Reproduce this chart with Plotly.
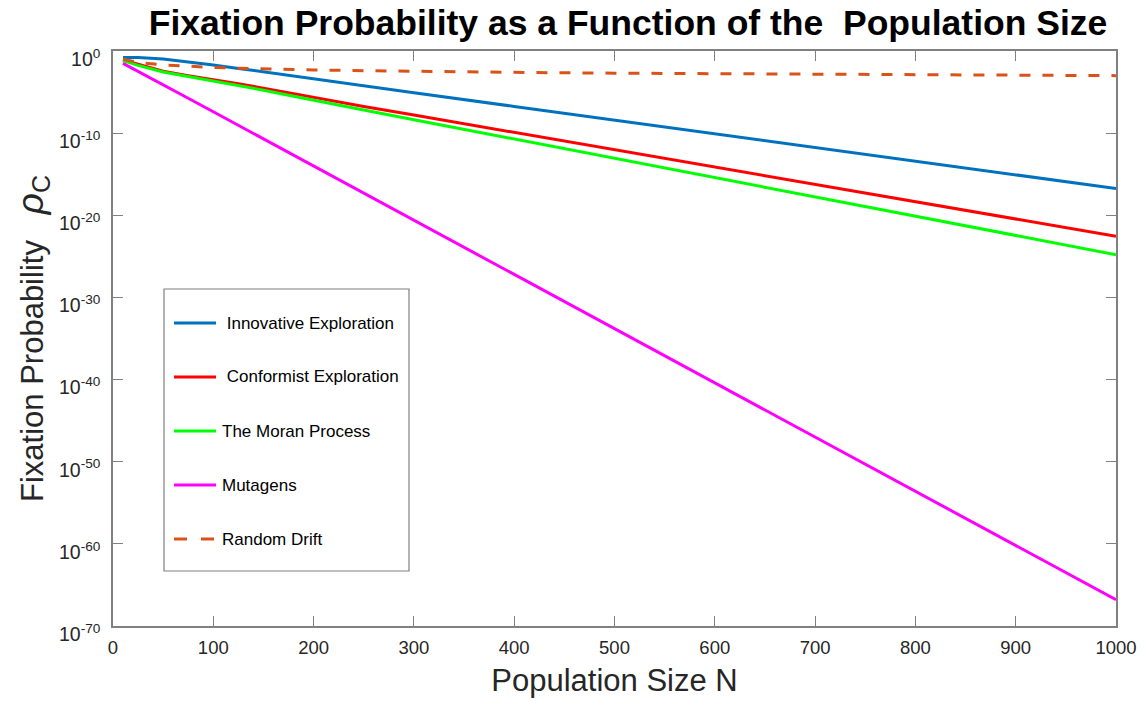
import plotly.graph_objects as go

# Population sizes (x) at which values were read
N = [10, 25, 50, 75, 100, 125, 150, 175, 200, 250, 300, 400, 500, 600, 700, 800, 900, 1000]

# log10 of fixation probability
innovative_log = [-0.80, -0.78, -0.98, -1.30, -1.70, -2.12, -2.53, -2.95, -3.40, -4.25, -5.08,
                  -6.75, -8.41, -10.08, -11.75, -13.41, -15.08, -16.74]
conformist_log = [-1.10, -1.60, -2.45, -3.00, -3.45, -3.97, -4.52, -5.08, -5.68, -6.75, -7.80,
                  -9.91, -12.02, -14.13, -16.23, -18.34, -20.45, -22.56]
moran_log = [-1.15, -1.75, -2.55, -3.10, -3.60, -4.17, -4.77, -5.38, -6.00, -7.19, -8.37,
             -10.71, -13.06, -15.41, -17.76, -20.11, -22.45, -24.80]
mutagens_log = [-1.50, -2.50, -4.10, -5.75, -7.40, -9.05, -10.70, -12.35, -14.00, -17.30, -20.60,
                -27.20, -33.70, -40.30, -46.90, -53.50, -60.10, -66.80]
drift = [0.1, 0.04, 0.02, 0.0133, 0.01, 0.008, 0.00667, 0.00571, 0.005, 0.004, 0.00333,
         0.0025, 0.002, 0.00167, 0.00143, 0.00125, 0.00111, 0.001]

names = ["\u00a0Innovative Exploration", "\u00a0Conformist Exploration", "The Moran Process",
         "Mutagens", "Random Drift"]
colors = ["#0072BD", "#FF0000", "#00FF00", "#FF00FF", "#D95319"]
dashes = ["solid", "solid", "solid", "solid", "11px,12px"]

ytick_exp = [0, -10, -20, -30, -40, -50, -60, -70]
xticks = [0, 100, 200, 300, 400, 500, 600, 700, 800, 900, 1000]

FONT = "Liberation Sans, Arial, Helvetica, sans-serif"

fig = go.Figure()
series = [innovative_log, conformist_log, moran_log, mutagens_log]
for name, logs, col, dsh in zip(names[:4], series, colors[:4], dashes[:4]):
    fig.add_trace(go.Scatter(x=N, y=[10 ** v for v in logs], mode="lines", name=name,
                             line=dict(color=col, width=3, dash=dsh), showlegend=False))
fig.add_trace(go.Scatter(x=N, y=drift, mode="lines", name=names[4],
                         line=dict(color=colors[4], width=3, dash=dashes[4]), showlegend=False))

axis_color = "#808080"

# plot-area pixel geometry (for legend placement in paper units)
L, R, T, B = 113, 1116, 51, 626
def px(xp):
    return (xp - L) / (R - L)
def py(yp):
    return (B - yp) / (B - T)

shapes = [dict(type="rect", xref="paper", yref="paper", x0=px(164), x1=px(409), y0=py(571), y1=py(289),
               line=dict(color=axis_color, width=1.2), fillcolor="rgba(0,0,0,0)")]
annotations = []
legend_y = [323, 377, 431, 485, 539]
for name, col, dsh, yy in zip(names, colors, dashes, legend_y):
    shapes.append(dict(type="line", xref="paper", yref="paper", x0=px(174), x1=px(216),
                       y0=py(yy), y1=py(yy), line=dict(color=col, width=3,
                       dash="13px,14px" if dsh != "solid" else "solid")))
    annotations.append(dict(xref="paper", yref="paper", x=px(220), y=py(yy), xanchor="left",
                            yanchor="middle", text=name, showarrow=False,
                            font=dict(family=FONT, size=17, color="#000000")))

fig.update_layout(
    width=1146, height=702,
    margin=dict(l=L, r=1146 - R, t=T, b=702 - B),
    paper_bgcolor="white", plot_bgcolor="white",
    font=dict(family=FONT, color="#262626"),
    showlegend=False,
    title=dict(text="<b>Fixation Probability as a Function of the&nbsp; Population Size</b>",
               x=628 / 1146, xanchor="center", y=1 - 23 / 702, yanchor="middle",
               font=dict(size=35.5, color="#000000", family=FONT)),
    xaxis=dict(range=[0, 1000], tickvals=xticks, ticks="inside", ticklen=10, tickcolor=axis_color,
               showline=True, linecolor=axis_color, linewidth=1.5, mirror="ticks",
               showgrid=False, zeroline=False,
               tickfont=dict(family=FONT, size=18.5, color="#262626"), ticklabelstandoff=4,
               automargin=False,
               title=dict(text="Population Size N", font=dict(size=31, color="#262626"), standoff=12)),
    yaxis=dict(type="log", range=[-70, 0], tickvals=[10 ** e for e in ytick_exp],
               ticktext=["10<sup>%d</sup>" % e for e in ytick_exp],
               ticks="inside", ticklen=10, tickcolor=axis_color,
               showline=True, linecolor=axis_color, linewidth=1.5, mirror="ticks",
               showgrid=False, zeroline=False,
               tickfont=dict(family=FONT, size=19.5, color="#262626"),
               ticklabelstandoff=7, ticklabelshift=8, automargin=False,
               title=dict(text="Fixation Probability&nbsp;&nbsp;&nbsp;<span style='font-size:37px'><i>\u03c1</i></span>"
                               "<sub><span style='font-size:25px'>C</span></sub>",
                          font=dict(size=31, color="#262626"), standoff=6)),
    shapes=shapes,
    annotations=annotations,
)

fig.write_html("out.html")
